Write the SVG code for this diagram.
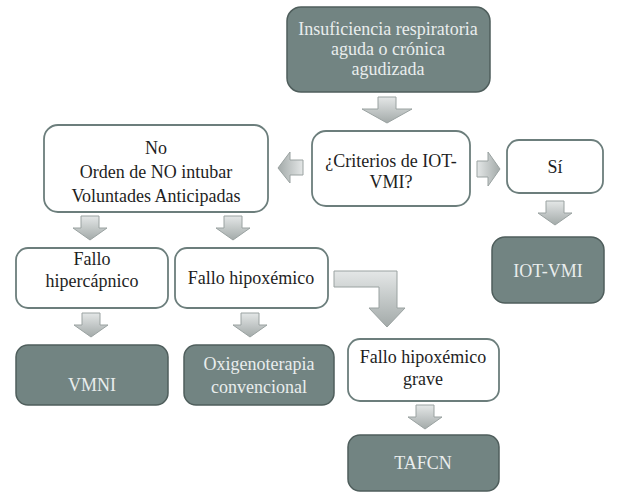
<svg xmlns="http://www.w3.org/2000/svg" width="619" height="493" viewBox="0 0 619 493">
<style>
.dark{fill:#728482;stroke:#4f5e5c;stroke-width:1.5}
.light{fill:#ffffff;stroke:#6c7e7c;stroke-width:1.8}
.t{font-family:"Liberation Serif","Times New Roman",serif;font-size:18px;text-anchor:middle}
.tl{fill:#e9eded}
.td{fill:#1e1e1e}
.arr{fill:url(#g);stroke:#9aa2a1;stroke-width:1}
.arrh{fill:url(#gh);stroke:#9aa2a1;stroke-width:1}
</style>
<defs>
<linearGradient id="g" x1="0" y1="0" x2="0" y2="1">
<stop offset="0" stop-color="#e4e7e7"/>
<stop offset="1" stop-color="#a3aaa9"/>
</linearGradient>
<linearGradient id="gh" x1="0" y1="0" x2="1" y2="0">
<stop offset="0" stop-color="#a3aaa9"/>
<stop offset="1" stop-color="#e4e7e7"/>
</linearGradient>
<linearGradient id="gr" x1="1" y1="0" x2="0" y2="0">
<stop offset="0" stop-color="#a3aaa9"/>
<stop offset="1" stop-color="#e4e7e7"/>
</linearGradient>
</defs>
<rect width="619" height="493" fill="#ffffff"/>
<g id="connectors">
<path class="arr" d="M378,97 L396,97 L396,109 L412,109 L387,123 L362,109 L378,109 Z"/>
<path class="arrh" d="M303,160 L290,160 L290,152 L278,168 L290,183 L290,175 L303,175 Z"/>
<path style="fill:url(#gr);stroke:#9aa2a1;stroke-width:1" d="M477,161 L488,161 L488,152 L500,169 L488,186 L488,177 L477,177 Z"/>
<path class="arr" d="M546,201 L564,201 L564,213 L572,213 L555,225 L538,213 L546,213 Z"/>
<path class="arr" d="M81,216 L99,216 L99,228 L107,228 L90,240 L73,228 L81,228 Z"/>
<path class="arr" d="M224,216 L242,216 L242,228 L250,228 L233,240 L216,228 L224,228 Z"/>
<path class="arr" d="M82,313 L100,313 L100,325 L108,325 L91,337 L74,325 L82,325 Z"/>
<path class="arr" d="M241,313 L259,313 L259,325 L267,325 L250,337 L233,325 L241,325 Z"/>
<path class="arr" d="M416,405 L434,405 L434,417 L442,417 L425,429 L408,417 L416,417 Z"/>
<path class="arr" d="M334,271 L397,271 L397,308 L405,308 L387,327 L369,308 L379,308 L379,287 L334,287 Z"/>
</g>
<g id="n-insuficiencia">
<rect class="dark" x="287" y="7" width="203" height="85" rx="14"/>
<text class="t tl" x="388" y="35">Insuficiencia respiratoria</text>
<text class="t tl" x="388" y="55">aguda o crónica</text>
<text class="t tl" x="388" y="75">agudizada</text>
</g>
<g id="n-criterios">
<rect class="light" x="312" y="131" width="158" height="75" rx="14"/>
<text class="t td" x="391" y="167">¿Criterios de IOT-</text>
<text class="t td" x="391" y="188">VMI?</text>
</g>
<g id="n-no">
<rect class="light" x="44" y="125" width="224" height="87" rx="14"/>
<text class="t td" x="156" y="154">No</text>
<text class="t td" x="156" y="178">Orden de NO intubar</text>
<text class="t td" x="156" y="202">Voluntades Anticipadas</text>
</g>
<g id="n-si">
<rect class="light" x="507" y="140" width="96" height="53" rx="12"/>
<text class="t td" x="555" y="173">Sí</text>
</g>
<g id="n-iotvmi">
<rect class="dark" x="492" y="237" width="112" height="66" rx="13"/>
<text class="t tl" x="548" y="277">IOT-VMI</text>
</g>
<g id="n-hipercapnico">
<rect class="light" x="16" y="248" width="152" height="60" rx="12"/>
<text class="t td" x="92" y="265">Fallo</text>
<text class="t td" x="92" y="287">hipercápnico</text>
</g>
<g id="n-hipoxemico">
<rect class="light" x="175" y="248" width="153" height="60" rx="12"/>
<text class="t td" x="251" y="284">Fallo hipoxémico</text>
</g>
<g id="n-vmni">
<rect class="dark" x="16" y="345" width="152" height="60" rx="12"/>
<text class="t tl" x="92" y="391">VMNI</text>
</g>
<g id="n-oxigeno">
<rect class="dark" x="184" y="345" width="150" height="60" rx="12"/>
<text class="t tl" x="259" y="370">Oxigenoterapia</text>
<text class="t tl" x="259" y="393">convencional</text>
</g>
<g id="n-grave">
<rect class="light" x="348" y="339" width="151" height="62" rx="12"/>
<text class="t td" x="423" y="363">Fallo hipoxémico</text>
<text class="t td" x="423" y="385">grave</text>
</g>
<g id="n-tafcn">
<rect class="dark" x="348" y="435" width="151" height="56" rx="12"/>
<text class="t tl" x="423" y="469">TAFCN</text>
</g>
</svg>
